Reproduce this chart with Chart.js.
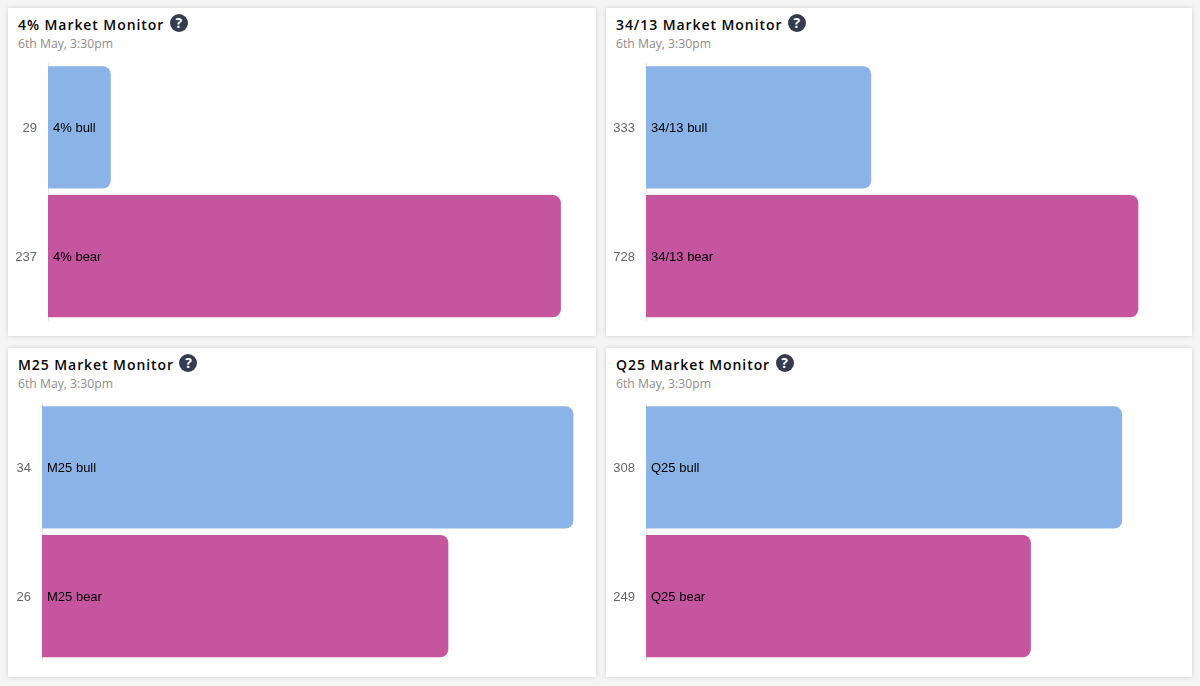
<!DOCTYPE html>
<html>
<head>
<meta charset="utf-8">
<script src="https://cdn.jsdelivr.net/npm/chart.js@4"></script>
<style>
html,body{margin:0;padding:0;background:#f5f5f5;width:1200px;height:686px;overflow:hidden}
.card{position:absolute;background:#fff;box-shadow:0 0 5px rgba(0,0,0,.16)}
.title{position:absolute;left:10px;top:6px;font:600 14px/20px "Open Sans",sans-serif;letter-spacing:.93px;color:#060606;white-space:nowrap}
.help{display:inline-block;width:18px;height:18px;border-radius:50%;background:#333c50;color:#fff;font:700 14px/18px "Open Sans",sans-serif;letter-spacing:0;text-align:center;vertical-align:2px;margin-left:5.5px}
.sub{position:absolute;left:10px;top:26.5px;font:400 12.2px/18px "Open Sans",sans-serif;color:#8c8c8c;white-space:nowrap}
canvas{position:absolute}
</style>
</head>
<body>
<script>
const titles = ["4% Market Monitor", "34/13 Market Monitor", "M25 Market Monitor", "Q25 Market Monitor"];
const subtitle = "6th May, 3:30pm";
const barNames4 = ["4% bull", "4% bear"];
const barNames34 = ["34/13 bull", "34/13 bear"];
const barNamesM25 = ["M25 bull", "M25 bear"];
const barNamesQ25 = ["Q25 bull", "Q25 bear"];
const values4 = [29, 237];
const values34 = [333, 728];
const valuesM25 = [34, 26];
const valuesQ25 = [308, 249];
const axisMax = [250, 800, 35, 350];
const barColors = ["#8ab3e8", "#c655a0"];

const names = [barNames4, barNames34, barNamesM25, barNamesQ25];
const values = [values4, values34, valuesM25, valuesQ25];
const layouts = [
  {x:8,   y:8,   w:588, h:328, axis:40, pad:7},
  {x:606, y:8,   w:586, h:328, axis:40, pad:5},
  {x:8,   y:348, w:588, h:329, axis:34, pad:7},
  {x:606, y:348, w:586, h:329, axis:40, pad:5}
];

const inlineLabels = {
  id: 'inlineLabels',
  afterDatasetsDraw(chart) {
    const {ctx} = chart;
    const meta = chart.getDatasetMeta(0);
    ctx.save();
    ctx.font = '13px "Liberation Sans", Arial, sans-serif';
    ctx.fillStyle = '#000';
    ctx.textAlign = 'left';
    ctx.textBaseline = 'middle';
    meta.data.forEach((el, i) => {
      ctx.fillText(chart.data.datasets[0].barNames[i], el.base + 5, el.y + 1);
    });
    ctx.restore();
  }
};

titles.forEach((t, i) => {
  const L = layouts[i];
  const card = document.createElement('div');
  card.className = 'card';
  card.style.cssText = `left:${L.x}px;top:${L.y}px;width:${L.w}px;height:${L.h}px`;
  const title = document.createElement('div');
  title.className = 'title';
  title.textContent = t;
  const help = document.createElement('span');
  help.className = 'help';
  help.textContent = '?';
  title.appendChild(help);
  const sub = document.createElement('div');
  sub.className = 'sub';
  sub.textContent = subtitle;
  card.append(title, sub);
  const canvas = document.createElement('canvas');
  canvas.style.left = '0px';
  canvas.style.top = '54px';
  canvas.style.width = L.w + 'px';
  canvas.style.height = '262px';
  canvas.width = L.w;
  canvas.height = 262;
  card.appendChild(canvas);
  document.body.appendChild(card);

  new Chart(canvas, {
    type: 'bar',
    plugins: [inlineLabels],
    data: {
      labels: values[i].map(String),
      datasets: [{
        data: values[i],
        barNames: names[i],
        backgroundColor: barColors,
        borderRadius: 8,
        borderSkipped: 'start',
        categoryPercentage: 0.95,
        barPercentage: 1
      }]
    },
    options: {
      indexAxis: 'y',
      responsive: false,
      animation: false,
      layout: {padding: {top: 1, bottom: 3.5, right: L.pad, left: 0}},
      plugins: {legend: {display: false}, tooltip: {enabled: false}, title: {display: false}},
      scales: {
        x: {display: false, min: 0, max: axisMax[i]},
        y: {
          afterFit(s) { s.width = L.axis; s.paddingTop = 0; s.paddingBottom = 0; },
          grid: {display: true, drawOnChartArea: false, drawTicks: false, color: '#e8e8e8'},
          border: {display: true, color: '#e4e4e4'},
          ticks: {padding: 11, labelOffset: 1, color: '#666', font: {family: '"Liberation Sans", Arial, sans-serif', size: 13}}
        }
      }
    }
  });
});
</script>
</body>
</html>
